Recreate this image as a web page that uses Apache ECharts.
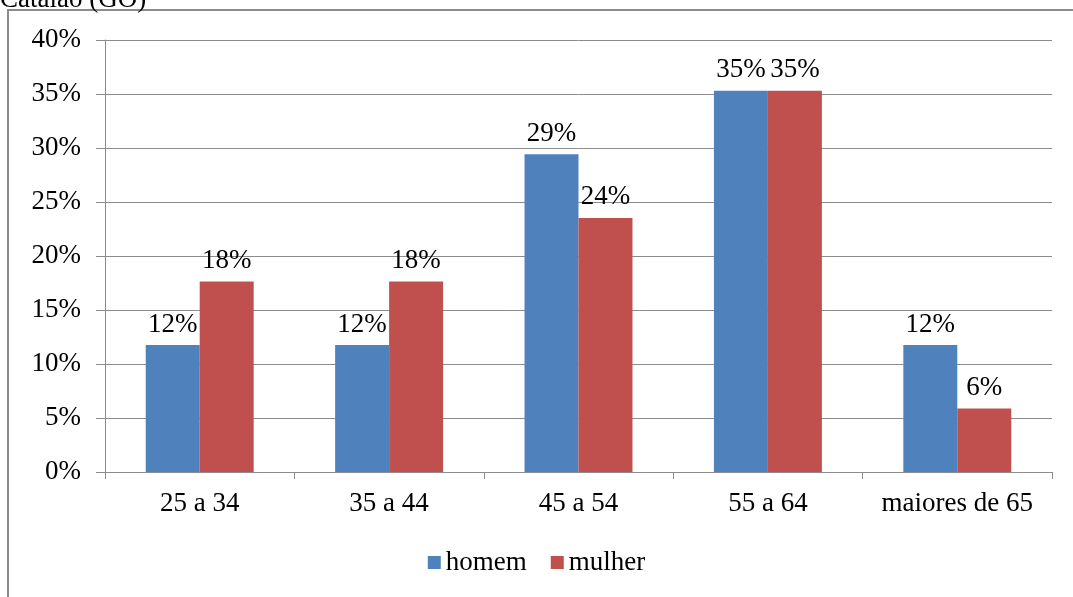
<!DOCTYPE html>
<html><head><meta charset="utf-8">
<script src="https://cdn.jsdelivr.net/npm/echarts@6/dist/echarts.min.js"></script>
<style>html,body{margin:0;padding:0;background:#fff}#c{width:1073px;height:597px}</style>
</head><body><div id="c"></div>
<script>
const categories = ['25 a 34', '35 a 44', '45 a 54', '55 a 64', 'maiores de 65'];
const homem = [11.76, 11.76, 29.41, 35.29, 11.76];
const mulher = [17.65, 17.65, 23.53, 35.29, 5.88];
const seriesNames = ['homem', 'mulher'];
const yTicks = [0, 5, 10, 15, 20, 25, 30, 35, 40];

const FONT = '"Liberation Serif", "Times New Roman", serif';
const FS = 27;
const chart = echarts.init(document.getElementById('c'));
const lbl = {
  show: true, position: 'top', distance: 7,
  fontFamily: FONT, fontSize: FS, color: '#000',
  formatter: p => Math.round(p.value) + '%'
};
chart.setOption({
  animation: false,
  textStyle: { fontFamily: FONT },
  graphic: [
    { type: 'polyline', shape: { points: [[8, 597], [8, 10], [1073, 10]] },
      style: { stroke: '#8c8c8c', lineWidth: 2, fill: null } },
    { type: 'text', left: 0, top: -14,
      style: { text: 'Catalão (GO)', font: '27px ' + FONT, fill: '#000' } }
  ],
  grid: { left: 105, right: 21, top: 40, bottom: 125 },
  legend: {
    data: seriesNames, bottom: 16, left: 'center',
    itemWidth: 13, itemHeight: 13, itemGap: 24,
    textStyle: { fontFamily: FONT, fontSize: FS, color: '#000' },
    icon: 'rect'
  },
  xAxis: {
    type: 'category', data: categories,
    axisLine: { lineStyle: { color: '#8c8c8c', width: 1 } },
    axisTick: { show: true, length: 7, lineStyle: { color: '#8c8c8c' } },
    axisLabel: { fontFamily: FONT, fontSize: FS, color: '#000', margin: 18, interval: 0 }
  },
  yAxis: {
    type: 'value', min: 0, max: 40, interval: 5,
    axisLine: { show: true, lineStyle: { color: '#8c8c8c', width: 1 } },
    axisTick: { show: true, length: 9, lineStyle: { color: '#8c8c8c' } },
    axisLabel: { fontFamily: FONT, fontSize: FS, color: '#000', margin: 24,
      formatter: v => (yTicks.includes(v) ? v + '%' : '') },
    splitLine: { lineStyle: { color: '#8c8c8c', width: 1 } }
  },
  series: [
    { name: seriesNames[0], type: 'bar', data: homem, barGap: '0%', barCategoryGap: '43%',
      itemStyle: { color: '#4f81bd' }, label: lbl },
    { name: seriesNames[1], type: 'bar', data: mulher, barGap: '0%', barCategoryGap: '43%',
      itemStyle: { color: '#c0504d' }, label: lbl }
  ]
});
</script></body></html>
